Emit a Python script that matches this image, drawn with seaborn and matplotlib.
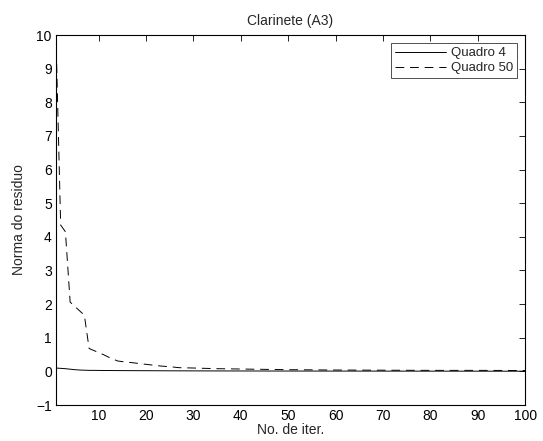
import matplotlib
matplotlib.use("Agg")
import matplotlib.pyplot as plt
import seaborn as sns
import pandas as pd

iteracoes = [1, 2, 3, 4, 5, 6, 7, 8, 9, 10, 11, 12, 13, 14, 15, 17, 20, 23, 25, 27,
             30, 35, 40, 45, 50, 60, 70, 80, 90, 100]
quadro4 = [0.10, 0.09, 0.08, 0.065, 0.05, 0.04, 0.035, 0.03, 0.03, 0.028, 0.027, 0.026,
           0.025, 0.024, 0.023, 0.022, 0.02, 0.018, 0.017, 0.016, 0.015, 0.013, 0.012,
           0.011, 0.01, 0.009, 0.008, 0.007, 0.006, 0.005]
quadro50 = [10.0, 4.35, 4.15, 2.06, 1.93, 1.80, 1.67, 0.68, 0.62, 0.56, 0.50, 0.43,
            0.37, 0.31, 0.29, 0.26, 0.21, 0.16, 0.14, 0.11, 0.10, 0.08, 0.07, 0.06,
            0.05, 0.04, 0.035, 0.03, 0.03, 0.025]
series_names = ["Quadro 4", "Quadro 50"]
title = "Clarinete (A3)"
xlabel = "No. de iter."
ylabel = "Norma do residuo"
xticks = [10, 20, 30, 40, 50, 60, 70, 80, 90, 100]
yticks = [-1, 0, 1, 2, 3, 4, 5, 6, 7, 8, 9, 10]

df = pd.concat([
    pd.DataFrame({"iter": iteracoes, "val": quadro4, "serie": series_names[0]}),
    pd.DataFrame({"iter": iteracoes, "val": quadro50, "serie": series_names[1]}),
])

sns.set_style("white")
plt.rcParams["font.family"] = ["Liberation Sans", "DejaVu Sans"]
plt.rcParams["xtick.direction"] = "in"
plt.rcParams["ytick.direction"] = "in"
plt.rcParams["xtick.top"] = True
plt.rcParams["ytick.right"] = True

fig = plt.figure(figsize=(5.43, 4.41), dpi=100)
ax = fig.add_axes([0.103, 0.0816, 0.864, 0.839])

sns.lineplot(data=df, x="iter", y="val", style="serie", style_order=series_names,
             dashes={"Quadro 4": "", "Quadro 50": (9, 6)}, color="black",
             linewidth=0.7, ax=ax, legend=True)

ax.set_xlim(1, 100)
ax.set_ylim(-1, 10)
ax.set_xticks(xticks)
ax.set_yticks(yticks)
ax.set_yticklabels(["\u22121"] + [str(v) for v in yticks[1:]])
ax.tick_params(axis="both", labelsize=10, length=4, width=0.6, colors="black", pad=3)
for s in ax.spines.values():
    s.set_color("black")
    s.set_linewidth(0.8)

ax.set_title(title, fontsize=10, pad=7)
ax.set_xlabel(xlabel, fontsize=10, labelpad=0)
ax.set_ylabel(ylabel, fontsize=10, labelpad=7)

leg = ax.legend(loc="upper right", fontsize=9.5, handlelength=3.9, handletextpad=0.35,
                frameon=True, fancybox=False, borderpad=0.3, labelspacing=0.2,
                borderaxespad=0, bbox_to_anchor=(0.983, 0.978))
leg.get_frame().set_edgecolor("black")
leg.get_frame().set_linewidth(0.6)
for line in leg.get_lines():
    line.set_linewidth(0.7)

fig.savefig("out.png", dpi=100)
